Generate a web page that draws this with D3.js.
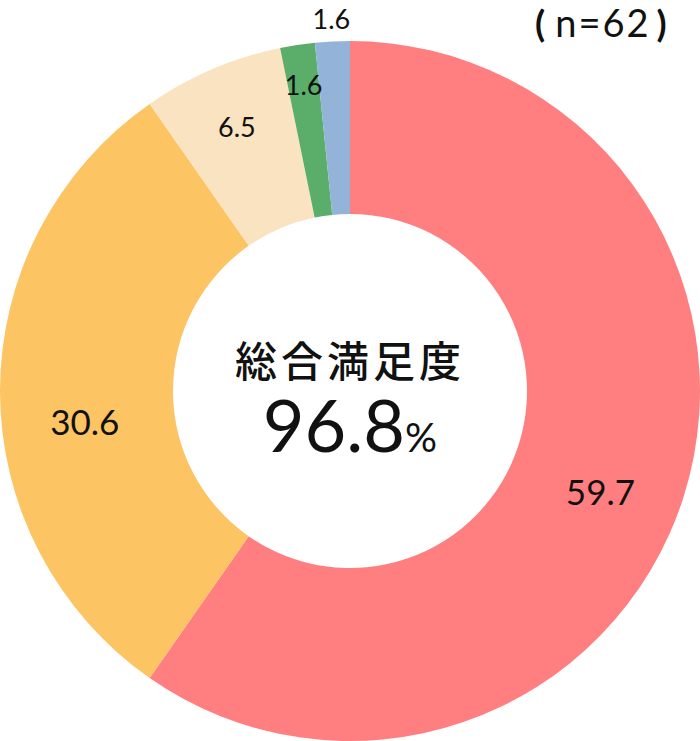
<!DOCTYPE html>
<html>
<head>
<meta charset="utf-8">
<script src="https://cdn.jsdelivr.net/npm/d3@7"></script>
<style>
  body { margin: 0; background: #fff; }
  svg text { font-family: "Lato", "Noto Sans CJK JP", sans-serif; fill: #111; }
</style>
</head>
<body>
<svg id="chart" width="700" height="741"></svg>
<script>
// data
var categories = ["とても満足", "満足", "普通", "不満", "とても不満"];
var values = [59.7, 30.6, 6.5, 1.6, 1.6];
var colors = ["#FF7F80", "#FDC463", "#F9E3C0", "#5BAD6A", "#94B3D8"];
var sampleN = 62;
var centerTitle = "総合満足度";
var centerValue = "96.8";

var svg = d3.select("#chart"),
    cx = 350, cy = 391,
    outer = 350, inner = 177;

var g = svg.append("g").attr("transform", "translate(" + cx + "," + cy + ")");

var pie = d3.pie().sort(null).value(d => d.value);
var arcs = pie(values.map((v, i) => ({ name: categories[i], value: v, color: colors[i] })));

var arc = d3.arc().innerRadius(inner).outerRadius(outer);

g.selectAll("path.slice").data(arcs).enter().append("path")
    .attr("class", "slice")
    .attr("d", arc)
    .attr("fill", d => d.data.color);

// label placement: radius and a small angle nudge (degrees) per slice
var labelR = [270, 267, 287, 309, 372];
var labelNudge = [4.5, -6.7, 0, 0, 0];
g.selectAll("text.lbl").data(arcs).enter().append("text")
    .attr("class", "lbl")
    .attr("transform", function (d, i) {
        var a = (d.startAngle + d.endAngle) / 2 + labelNudge[i] * Math.PI / 180;
        return "translate(" + (Math.sin(a) * labelR[i]) + "," + (-Math.cos(a) * labelR[i]) + ")";
    })
    .attr("text-anchor", "middle")
    .attr("dy", "0.36em")
    .style("font-size", (d, i) => i < 2 ? "35px" : "27px")
    .text(d => d.data.value.toFixed(1));

// centre text
g.append("text").attr("text-anchor", "middle").attr("y", -14)
    .style("font-size", "42px").style("font-weight", 500).style("letter-spacing", "4px")
    .text(centerTitle);
var t = g.append("text").attr("text-anchor", "middle").attr("y", 61);
t.append("tspan").style("font-size", "72px").text(centerValue);
t.append("tspan").style("font-size", "40px").text("%");

var n = svg.append("text").attr("x", 535).attr("y", 37)
    .style("font-size", "38px");
n.append("tspan").style("font-size", "37px").style("font-weight", 700).text("(");
n.append("tspan").attr("dx", 10).style("letter-spacing", "2px").text("n=" + sampleN);
n.append("tspan").attr("dx", 6).style("font-size", "37px").style("font-weight", 700).text(")");
</script>
</body>
</html>
